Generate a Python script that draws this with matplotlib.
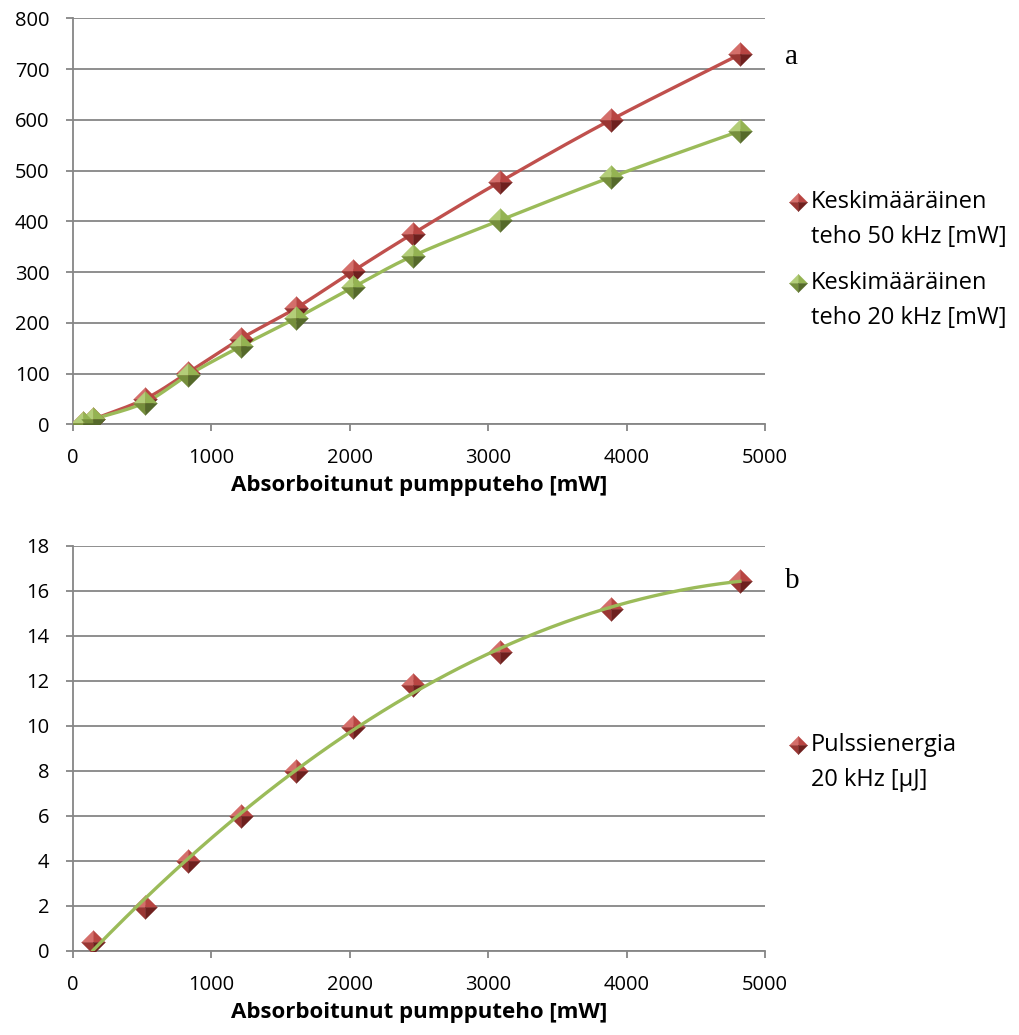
import numpy as np
import matplotlib.pyplot as plt

# data
pump = [72, 145, 520, 831, 1214, 1611, 2023, 2457, 3085, 3887, 4819]
power_50k = [3, 10, 50, 102, 169, 229, 302, 376, 478, 600, 729]
power_20k = [3, 10, 43, 97, 154, 209, 270, 332, 402, 487, 578]

pump_b = [145, 520, 831, 1214, 1611, 2023, 2457, 3085, 3887, 4819]
energy_20k = [0.4, 1.95, 4.0, 6.0, 8.0, 9.95, 11.8, 13.3, 15.2, 16.45]

RED = ['#d46e6a', '#b84542', '#9a3633', '#6e201e']
GREEN = ['#b3cd78', '#94b352', '#768f3c', '#55692a']
FONT = 'Open Sans'

# four faces of the "pyramid" diamond marker
FACES = [
    [(0, 0), (-1, 0), (0, 1), (0, 0)],   # top-left
    [(0, 0), (0, 1), (1, 0), (0, 0)],    # top-right
    [(0, 0), (-1, 0), (0, -1), (0, 0)],  # bottom-left
    [(0, 0), (1, 0), (0, -1), (0, 0)],   # bottom-right
]


def pyramid(ax, x, y, cols, ms=17, z=5, clip=True):
    for verts, c in zip(FACES, cols):
        ax.plot(x, y, ls='none', marker=verts, ms=ms, mfc=c, mec=c, mew=0.3,
                zorder=z, clip_on=clip)


def catmull(x, y, n=30):
    x = np.asarray(x, float)
    y = np.asarray(y, float)
    px = np.concatenate([[2 * x[0] - x[1]], x, [2 * x[-1] - x[-2]]])
    py = np.concatenate([[2 * y[0] - y[1]], y, [2 * y[-1] - y[-2]]])
    xs, ys = [], []
    t = np.linspace(0, 1, n)
    for i in range(1, len(px) - 2):
        for p, out in ((px, xs), (py, ys)):
            p0, p1, p2, p3 = p[i - 1], p[i], p[i + 1], p[i + 2]
            out.extend(0.5 * (2 * p1 + (-p0 + p2) * t
                              + (2 * p0 - 5 * p1 + 4 * p2 - p3) * t ** 2
                              + (-p0 + 3 * p1 - 3 * p2 + p3) * t ** 3))
    return np.array(xs), np.array(ys)


def style(ax, ymax, ystep):
    ax.set_xlim(0, 5000)
    ax.set_ylim(0, ymax)
    ax.set_xticks(range(0, 5001, 1000))
    ax.set_yticks(np.arange(0, ymax + 0.01, ystep))
    ax.grid(axis='y', color='#868686', lw=1.3)
    ax.set_axisbelow(True)
    for s in ('top', 'right'):
        ax.spines[s].set_visible(False)
    for s in ('left', 'bottom'):
        ax.spines[s].set_color('#868686')
        ax.spines[s].set_linewidth(1.3)
    ax.tick_params(colors='#868686', length=5, width=1.3, labelcolor='black',
                   labelsize=14.5)
    ax.tick_params(axis='y', pad=12)
    ax.tick_params(axis='x', pad=12)
    for lab in ax.get_xticklabels() + ax.get_yticklabels():
        lab.set_fontfamily(FONT)
    ax.set_xlabel('Absorboitunut pumpputeho [mW]', fontsize=16,
                  fontweight='bold', fontfamily=FONT, labelpad=5)


fig = plt.figure(figsize=(10.2, 10.35), dpi=100)
ax1 = fig.add_axes([0.0716, 0.590, 0.6784, 0.3923])
ax2 = fig.add_axes([0.0716, 0.0812, 0.6784, 0.3913])

# top chart
sx, sy = catmull(pump, power_50k)
ax1.plot(sx, sy, color='#c0504d', lw=2.4, zorder=3)
sx, sy = catmull(pump, power_20k)
ax1.plot(sx, sy, color='#9bbb59', lw=2.4, zorder=3)
pyramid(ax1, pump, power_50k, RED, z=4)
pyramid(ax1, pump, power_20k, GREEN, z=5)
style(ax1, 800, 100)

# bottom chart: quadratic trend line
coef = np.polyfit(pump_b, energy_20k, 2)
tx = np.linspace(pump_b[0], pump_b[-1], 200)
pyramid(ax2, pump_b, energy_20k, RED, z=3)
ax2.plot(tx, np.polyval(coef, tx), color='#9bbb59', lw=2.4, zorder=4)
style(ax2, 18, 2)

# overlay in pixel coordinates for legends and panel letters
ov = fig.add_axes([0, 0, 1, 1])
ov.set_xlim(0, 1020)
ov.set_ylim(1035, 0)
ov.axis('off')

ov.text(785, 57, 'a', fontsize=21, fontfamily='Liberation Serif', va='center')
ov.text(785, 581, 'b', fontsize=21, fontfamily='Liberation Serif', va='center')

legend_items = [
    (202, RED, ['Keskimääräinen', 'teho 50 kHz [mW]']),
    (283, GREEN, ['Keskimääräinen', 'teho 20 kHz [mW]']),
    (745, RED, ['Pulssienergia', '20 kHz [µJ]']),
]
for y, cols, lines in legend_items:
    pyramid(ov, [798], [y], cols, ms=13, clip=False)
    ov.text(811, y, lines[0], fontsize=17, fontfamily=FONT, va='center')
    ov.text(811, y + 35, lines[1], fontsize=17, fontfamily=FONT, va='center')

fig.savefig('out.png', dpi=100)
